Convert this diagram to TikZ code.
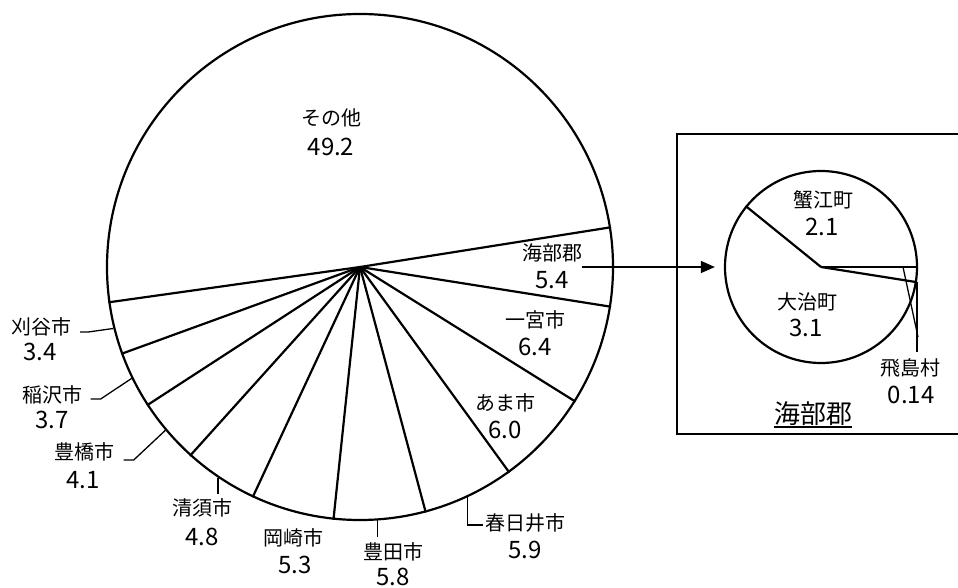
\documentclass[tikz,border=0pt]{standalone}
\usepackage{fontspec}
\setmainfont{Noto Sans CJK JP}
\usetikzlibrary{arrows.meta}

\tikzset{
  slice/.style={line width=2.2pt},
  lead/.style={line width=1.3pt},
  frame/.style={line width=1.6pt},
  lab/.style={inner sep=0pt,font=\fontsize{20}{20}\selectfont},
  val/.style={inner sep=0pt,font=\fontsize{24}{24}\selectfont}
}

\begin{document}
\begin{tikzpicture}[x=1pt,y=1pt]
   \useasboundingbox (0,0) rectangle (958,587);
   \clip (0,0) rectangle (958,587);

   % main pie
   \node[circle,draw,slice,minimum size=506pt,inner sep=0pt] (pie) at (360,320) {};
   \foreach \a in {9.9,-9.54,-32.58,-54.18,-75.42,-96.3,-115.38,-132.66,-147.42,-160.74,-172.98}
     \draw[slice] (pie.center) -- (pie.\a);

   \node[lab] (sonota) at (331,469) {その他};
   \node[val] (sonota-v) at (331,440) {49.2};
   \node[lab] (kaifu) at (552,334) {海部郡};
   \node[val] (kaifu-v) at (552,307) {5.4};
   \node[lab] (ichinomiya) at (535,267) {一宮市};
   \node[val] (ichinomiya-v) at (535,240) {6.4};
   \node[lab] (ama) at (505,184) {あま市};
   \node[val] (ama-v) at (505,157) {6.0};
   \node[lab] (kasugai) at (525,64) {春日井市};
   \node[val] (kasugai-v) at (525,37) {5.9};
   \node[lab] (toyota) at (393,35) {豊田市};
   \node[val] (toyota-v) at (393,10) {5.8};
   \node[lab] (okazaki) at (293,49) {岡崎市};
   \node[val] (okazaki-v) at (295,22) {5.3};
   \node[lab] (kiyosu) at (202,79) {清須市};
   \node[val] (kiyosu-v) at (202,50) {4.8};
   \node[lab] (toyohashi) at (84,135) {豊橋市};
   \node[val] (toyohashi-v) at (83,107) {4.1};
   \node[lab] (inazawa) at (52,192) {稲沢市};
   \node[val] (inazawa-v) at (52,167) {3.7};
   \node[lab] (kariya) at (41,260) {刈谷市};
   \node[val] (kariya-v) at (40,235) {3.4};

   % leaders
   \draw[lead] ([xshift=9pt,yshift=-5pt]kariya.east) -- ++(8,0) -- (pie.-166.9);
   \draw[lead] ([xshift=8.5pt,yshift=-4pt]inazawa.east) -- ++(10,0) -- (pie.-154.1);
   \draw[lead] ([xshift=9.5pt,yshift=-8pt]toyohashi.east) -- ++(10,0) -- (pie.-140);
   \draw[lead] (pie.-124.5) -- ++(0,-16);
   \draw[lead] (pie.-86.5) -- ++(0,-17);
   \draw[lead] (pie.-65) |- ([xshift=-2pt,yshift=-2pt]kasugai.west);

   % inset
   \draw[frame] (677,153) rectangle (975,453);
   \node[circle,draw,slice,minimum size=192pt,inner sep=0pt] (inset) at (821,320) {};
   \foreach \a in {0,141.6,-9.4}
     \draw[slice] (inset.center) -- (inset.\a);

   \coordinate (kaifu-s) at (582,320);
   \draw[lead,-{Triangle[length=14pt,width=12pt]}] (kaifu-s) -- ([xshift=-9pt]inset.west);

   \node[lab] (kanie) at (823,387) {蟹江町};
   \node[val] (kanie-v) at (822,360) {2.1};
   \node[lab] (oharu) at (807,285) {大治町};
   \node[val] (oharu-v) at (806,259) {3.1};
   \node[lab] (tobishima) at (910,219) {飛島村};
   \node[val] (tobishima-v) at (911,192) {0.14};

   \coordinate (tobi-a) at (903,320);
   \coordinate (tobi-b) at (918,250);
   \draw[lead] (tobi-a) -- (tobi-b);
   \draw[slice] (inset.-9.4) -- ++(0,-70);

   \node[inner sep=0pt,font=\fontsize{26}{26}\selectfont] (title) at (813,173.5) {海部郡};
   \draw[line width=1.6pt] ([yshift=-1.5pt]title.south west) -- ([yshift=-1.5pt]title.south east);
\end{tikzpicture}
\end{document}
